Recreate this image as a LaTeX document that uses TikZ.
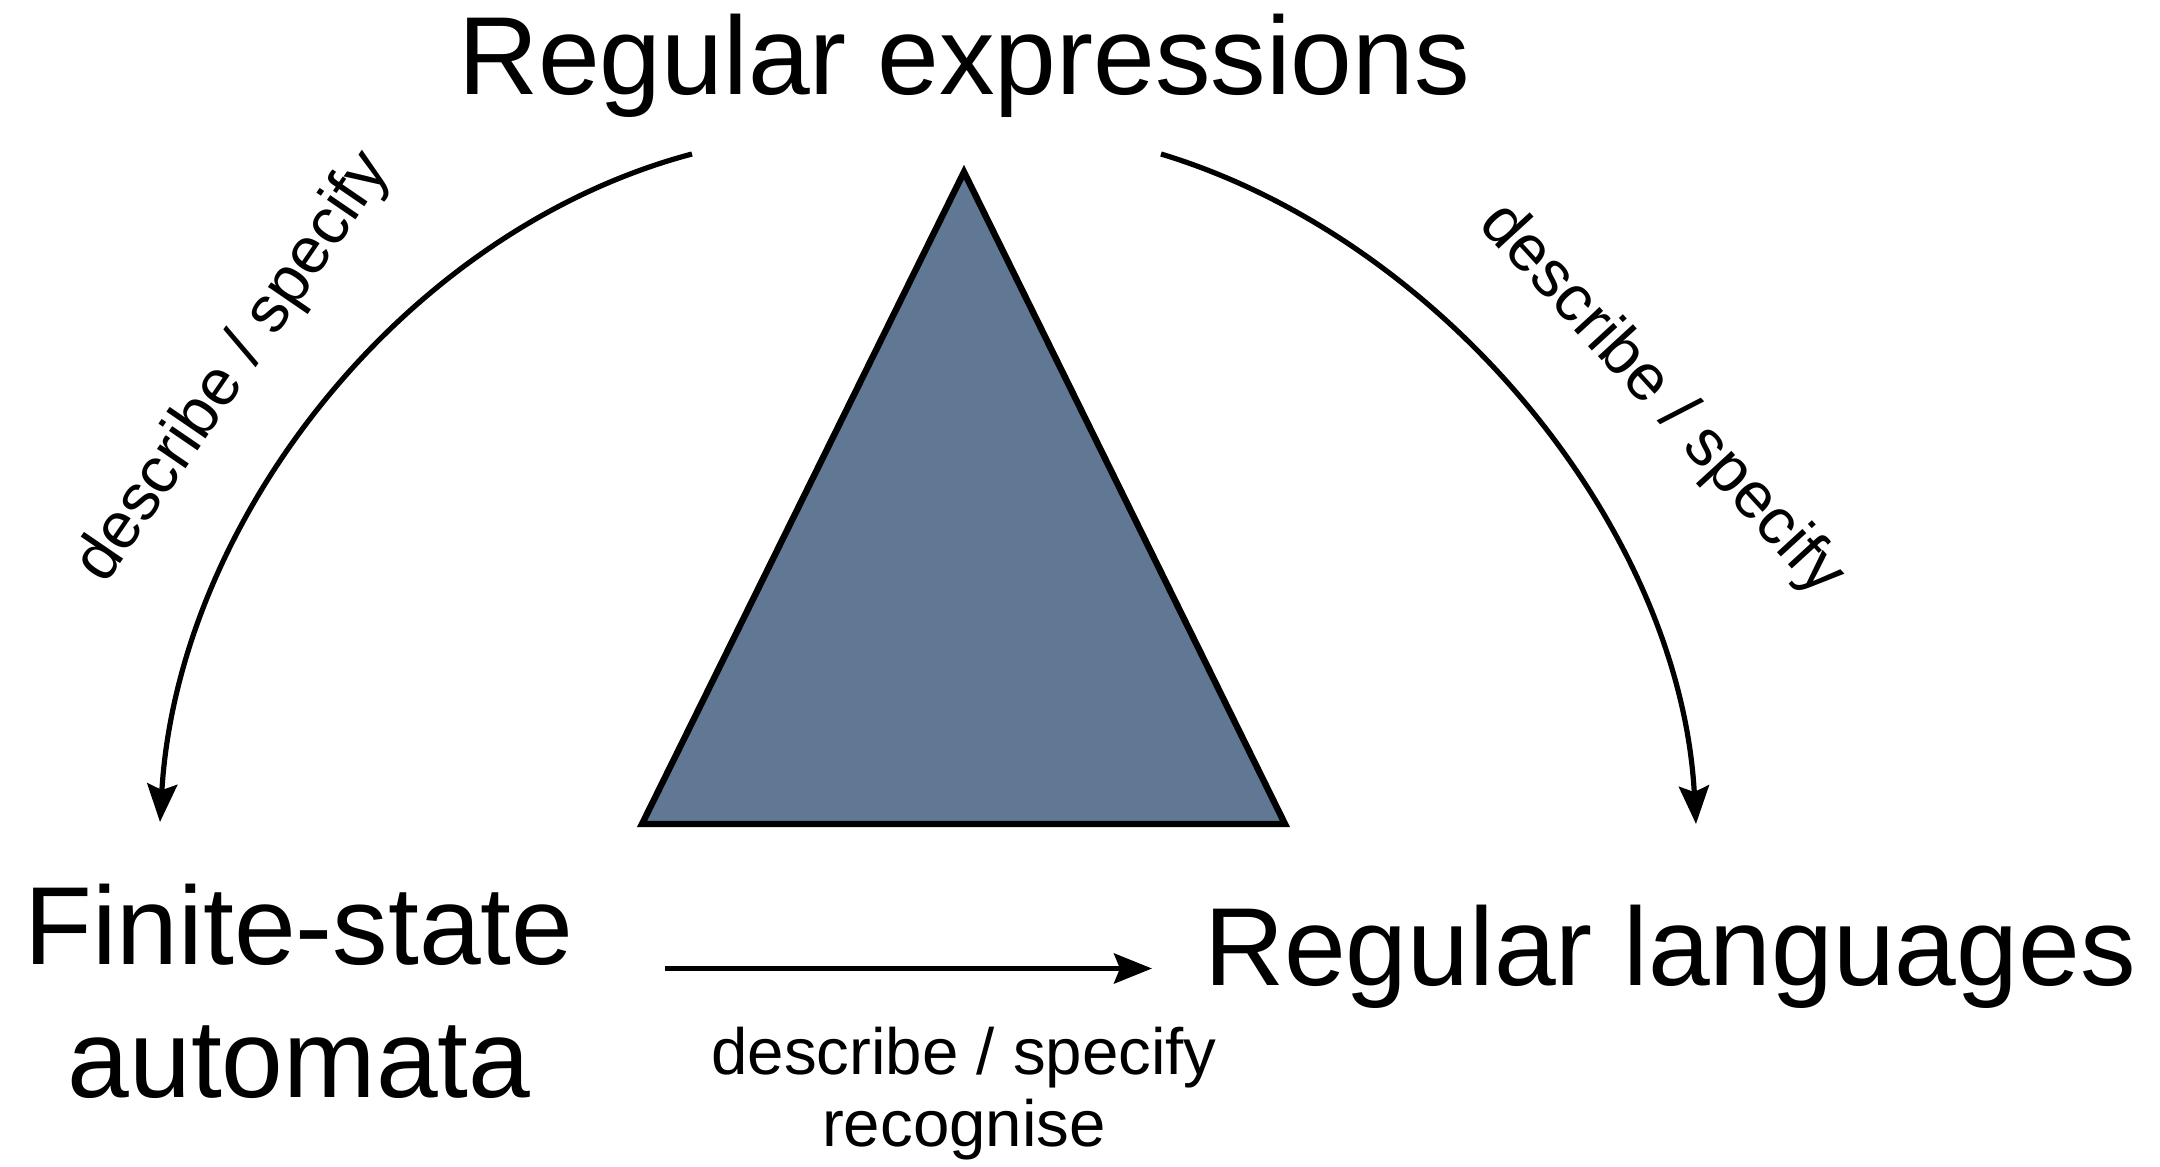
\documentclass[tikz,border=0pt]{standalone}
\usepackage{fontspec}
\setmainfont{Liberation Sans}
\usetikzlibrary{arrows.meta}
\definecolor{tri}{RGB}{96,120,148}
\begin{document}
\begin{tikzpicture}[x=0.5pt,y=-0.5pt,
  big/.style={font=\fontsize{55.5}{66.5}\selectfont, inner sep=0pt, anchor=base, align=center},
  lab/.style={font=\fontsize{32.7}{35.8}\selectfont, inner sep=0pt, align=center},
  conn/.style={line width=2.6pt, -{Stealth[length=19pt,width=15pt,inset=3pt]}},
  trist/.style={fill=tri, draw=black, line width=3.2pt, line join=miter}]
\useasboundingbox (0,0) rectangle (2160,1167);
% triangle
\draw[trist] (964,172) -- (1285,824) -- (642,824) -- cycle;
% texts
\node[big] (re) at (964,94) {Regular expressions};
\node[big] (fsa) at (299,1097) {Finite-state\\automata};
\node[big] (rl) at (1670,985) {Regular languages};
% connector end points
\coordinate (a1) at (692,154);
\coordinate (a2) at (160,822);
\coordinate (c1) at (1161,154);
\coordinate (c2) at (1696,824);
\coordinate (b1) at (665,968.5);
\coordinate (b2) at (1152,968.5);
% connectors
\draw[conn] (a1) .. controls (405,230) and (178,520) .. (a2);
\draw[conn] (c1) .. controls (1445,240) and (1680,530) .. (c2);
\draw[conn] (b1) -- (b2);
% labels
\node[lab, rotate=55.6] (l1) at (234,368) {describe / specify};
\node[lab, rotate=-47.5] (l2) at (1661,400) {describe / specify};
\node[lab, anchor=base] (l3) at (964,1146) {describe / specify\\recognise};
\end{tikzpicture}
\end{document}
